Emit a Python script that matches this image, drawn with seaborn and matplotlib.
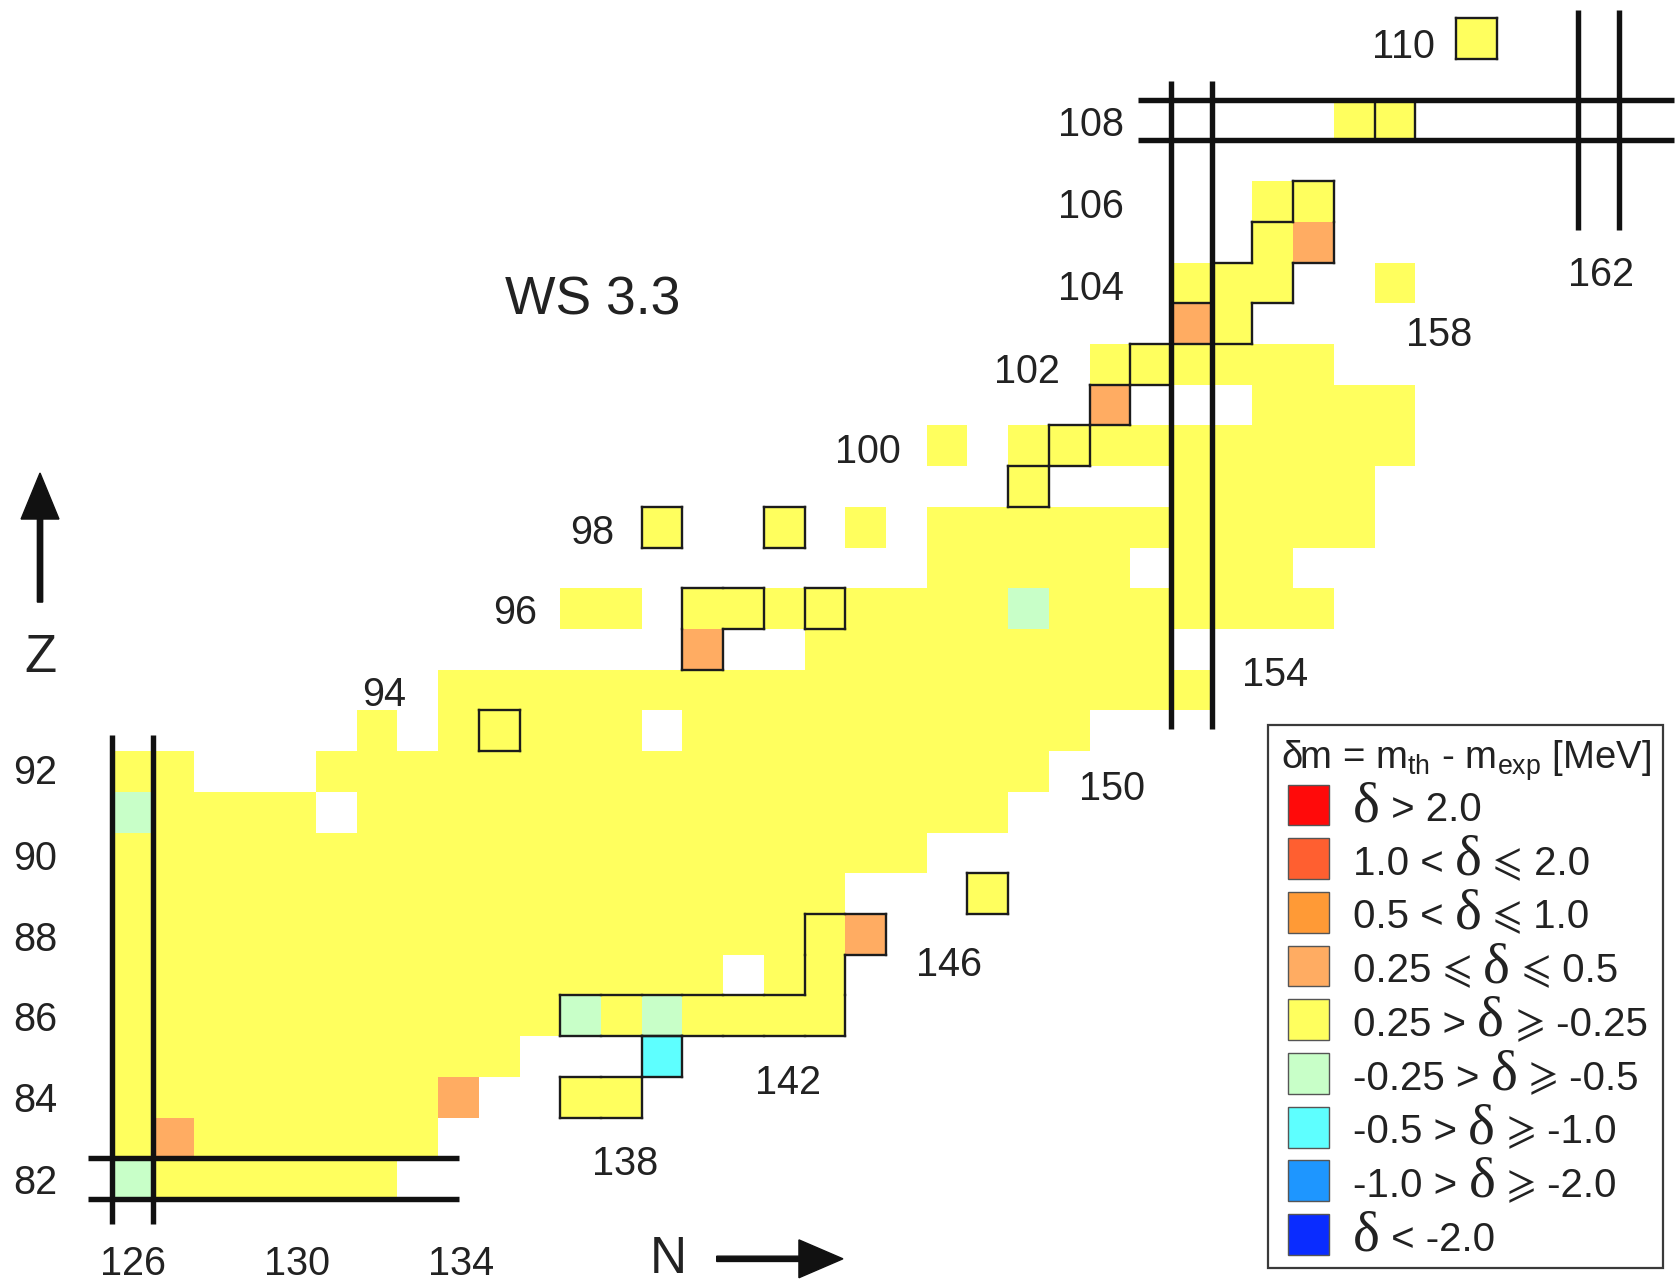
import numpy as np
import pandas as pd
import matplotlib
matplotlib.use("Agg")
import matplotlib.pyplot as plt
import seaborn as sns
from matplotlib.colors import ListedColormap
from matplotlib.patches import Rectangle
from matplotlib.collections import LineCollection
from matplotlib.offsetbox import TextArea, HPacker, AnnotationBbox

sns.set_theme(style="white")
plt.rcParams["font.family"] = ["Liberation Sans", "DejaVu Sans", "STIXGeneral"]
plt.rcParams["mathtext.fontset"] = "custom"
plt.rcParams["mathtext.rm"] = "Liberation Sans"
plt.rcParams["mathtext.it"] = "Liberation Sans:italic"
plt.rcParams["mathtext.bf"] = "Liberation Sans:bold"

# ---------------- data ----------------
# categories of delta m = m_th - m_exp (index = colour code)
cat_colors = ["#ff0a0a", "#ff5f30", "#ff9a36", "#ffac62", "#ffff5e",
              "#c8ffc8", "#5effff", "#1e96ff", "#0a2cff"]
cat_labels = ["\u03b4 > 2.0", "1.0 < \u03b4 \u2a7d 2.0", "0.5 < \u03b4 \u2a7d 1.0",
              "0.25 \u2a7d \u03b4 \u2a7d 0.5", "0.25 > \u03b4 \u2a7e -0.25",
              "-0.25 > \u03b4 \u2a7e -0.5", "-0.5 > \u03b4 \u2a7e -1.0",
              "-1.0 > \u03b4 \u2a7e -2.0", "\u03b4 < -2.0"]

# runs of measured nuclei (Z, first N, last N), default class |dm|<0.25
run_Z = [82, 83, 84, 84, 85, 85, 86, 87, 87, 88, 89, 89, 90, 91, 91,
         92, 92, 93, 93, 93, 94, 95, 95, 96, 96, 97, 97, 98, 98, 98,
         98, 99, 99, 100, 100, 101, 101, 102, 103, 104, 104, 105, 106, 108, 110]
run_first = [126, 126, 126, 137, 126, 139, 126, 126, 142, 126, 126, 147, 126, 126, 132,
             126, 131, 132, 134, 140, 134, 140, 143, 137, 140, 146, 152, 139, 142, 144,
             146, 148, 152, 146, 148, 150, 154, 150, 152, 152, 157, 154, 154, 156, 159]
run_last = [132, 133, 134, 138, 135, 139, 143, 140, 143, 144, 143, 147, 145, 130, 147,
            127, 148, 132, 138, 149, 152, 140, 151, 138, 155, 150, 154, 139, 142, 144,
            156, 148, 156, 146, 157, 150, 157, 155, 153, 154, 157, 155, 155, 157, 159]

# cells in other classes
orange_N = [127, 134, 144, 140, 150, 152, 155]
orange_Z = [83, 84, 88, 95, 101, 103, 105]
lgreen_N = [126, 126, 137, 139, 148]
lgreen_Z = [82, 91, 86, 86, 96]
cyan_N = [139]
cyan_Z = [85]

# outlined groups of nuclei (N, Z)
box_groups = [
    [(137, 84), (138, 84)],
    [(139, 85)],
    [(137, 86), (138, 86), (139, 86), (140, 86), (141, 86), (142, 86), (143, 86),
     (143, 87), (143, 88), (144, 88)],
    [(147, 89)],
    [(135, 93)],
    [(140, 96), (141, 96), (140, 95)],
    [(143, 96)],
    [(139, 98)],
    [(142, 98)],
    [(148, 99)],
    [(149, 100)],
    [(150, 101)],
    [(151, 102)],
    [(152, 103), (153, 103), (153, 104), (154, 104), (154, 105), (155, 105), (155, 106)],
    [(157, 108)],
    [(159, 110)],
]

# magic / shell-closure lines
magic_N = [126, 152, 162]
magic_N_from = [80.88, 93.05, 105.3]
magic_N_to = [92.89, 108.95, 110.7]
magic_Z = [82, 108]
magic_Z_from = [124.89, 150.7]
magic_Z_to = [134.02, 163.85]

# labels
z_text = ["82", "84", "86", "88", "90", "92", "94", "96", "98", "100", "102", "104", "106", "108", "110"]
z_pos_N = [123.61, 123.61, 123.61, 123.61, 123.61, 123.61, 132.16, 135.39, 137.29,
           144.05, 147.95, 149.53, 149.53, 149.53, 157.21]
z_pos_Z = [82.0, 84.0, 86.0, 87.97, 89.95, 92.05, 93.97, 96.0, 97.95,
           99.95, 101.92, 103.95, 105.95, 107.97, 109.89]
n_text = ["126", "130", "134", "138", "142", "146", "150", "154", "158", "162"]
n_pos_N = [126.0, 130.03, 134.05, 138.1, 142.08, 146.05, 150.05, 154.05, 158.08, 162.05]
n_pos_Z = [79.99, 79.99, 79.99, 82.45, 84.45, 87.34, 91.66, 94.47, 102.82, 104.29]

# ---------------- grid ----------------
N_cols = np.arange(126, 163)
Z_rows = np.arange(110, 81, -1)
grid = pd.DataFrame(np.nan, index=Z_rows, columns=N_cols)
for z, n0, n1 in zip(run_Z, run_first, run_last):
    grid.loc[z, n0:n1] = 4
for n, z in zip(orange_N, orange_Z):
    grid.loc[z, n] = 3
for n, z in zip(lgreen_N, lgreen_Z):
    grid.loc[z, n] = 5
for n, z in zip(cyan_N, cyan_Z):
    grid.loc[z, n] = 6


def hx(n):
    return n - 126 + 0.5


def hy(z):
    return 110 - z + 0.5


fig = plt.figure(figsize=(16.8, 12.83), dpi=100)
ax = fig.add_axes([0, 0, 1, 1])
sns.heatmap(grid, cmap=ListedColormap(cat_colors), vmin=-0.5, vmax=8.5,
            cbar=False, xticklabels=False, yticklabels=False, ax=ax, linewidths=0)
ax.set_xlim(hx(122.737), hx(164.0))
ax.set_ylim(hy(79.436), hy(110.948))
ax.axis("off")

# outlines of groups
segs = []
for grp in box_groups:
    s = set(grp)
    for n, z in grp:
        x0, x1 = n - 126, n - 125
        y0, y1 = 110 - z, 111 - z
        if (n, z + 1) not in s:
            segs.append([(x0, y0), (x1, y0)])
        if (n, z - 1) not in s:
            segs.append([(x0, y1), (x1, y1)])
        if (n - 1, z) not in s:
            segs.append([(x0, y0), (x0, y1)])
        if (n + 1, z) not in s:
            segs.append([(x1, y0), (x1, y1)])
ax.add_collection(LineCollection(segs, colors="#1c1c1c", linewidths=1.7,
                                 capstyle="projecting", zorder=3))

# magic lines
for n, a, b in zip(magic_N, magic_N_from, magic_N_to):
    for off in (-0.5, 0.5):
        ax.plot([hx(n + off), hx(n + off)], [hy(a), hy(b)], color="#111111",
                lw=3.9, solid_capstyle="butt", zorder=4)
for z, a, b in zip(magic_Z, magic_Z_from, magic_Z_to):
    for off in (-0.5, 0.5):
        ax.plot([hx(a), hx(b)], [hy(z + off), hy(z + off)], color="#111111",
                lw=3.9, solid_capstyle="butt", zorder=4)

# number labels
for t, n, z in zip(z_text, z_pos_N, z_pos_Z):
    ax.text(hx(n), hy(z), t, ha="center", va="center_baseline", fontsize=28.5, color="#222222")
for t, n, z in zip(n_text, n_pos_N, n_pos_Z):
    ax.text(hx(n), hy(z), t, ha="center", va="center_baseline", fontsize=28.5, color="#222222")

ax.text(hx(137.29), hy(103.71), "WS 3.3", ha="center", va="center_baseline",
        fontsize=38.5, color="#222222")

# axis arrows
ax.arrow(hx(123.72), hy(96.16), 0, -(99.33 - 96.16), width=0.13, head_width=0.93,
         head_length=1.13, length_includes_head=True, color="#111111", zorder=5)
ax.text(hx(123.72), hy(94.93), "Z", ha="center", va="center_baseline", fontsize=38, color="#222222")
ax.arrow(hx(140.34), hy(80.03), 143.44 - 140.34, 0, width=0.13, head_width=0.93,
         head_length=1.08, length_includes_head=True, color="#111111", zorder=5)
ax.text(hx(139.14), hy(80.14), "N", ha="center", va="center_baseline", fontsize=37, color="#222222")

# ---------------- legend ----------------
W, H = 1568.0, 1197.0
ax.add_patch(Rectangle((1183 / W, 1 - 1183 / H), (1552 - 1183) / W, (1183 - 676) / H,
                       transform=ax.transAxes, fill=False, ec="#3a3a3a", lw=1.6,
                       clip_on=False, zorder=6))
ax.text(1368 / W, 1 - 703 / H, r"δm = m$_{\rm th}$ - m$_{\rm exp}$ [MeV]",
        transform=ax.transAxes, ha="center", va="center_baseline", fontsize=27.5, color="#222222")

sans = dict(fontsize=29, color="#222222")
serif_d = dict(fontsize=41, color="#222222", family=["Liberation Serif", "DejaVu Serif"])
ops = dict(fontsize=31, color="#222222", family=["STIXGeneral", "DejaVu Sans"])


def kind(ch):
    if ch == "\u03b4":
        return "d"
    if ch in "\u2a7d\u2a7e":
        return "o"
    return "t"


for i, col in enumerate(cat_colors):
    yc = 751 + i * 50.1
    ax.add_patch(Rectangle((1202 / W, 1 - (yc + 19) / H), 38 / W, 38 / H,
                           transform=ax.transAxes, fc=col, ec="#555555", lw=1.0,
                           clip_on=False, zorder=6))
    label = cat_labels[i]
    chunks = []
    for ch in label:
        k = kind(ch)
        if chunks and chunks[-1][1] == k:
            chunks[-1][0] += ch
        else:
            chunks.append([ch, k])
    parts = []
    for txt, k in chunks:
        props = serif_d if k == "d" else (ops if k == "o" else sans)
        parts.append(TextArea(txt, textprops=props))
    hp = HPacker(children=parts, align="baseline", pad=0, sep=0)
    ab = AnnotationBbox(hp, (1263 / W, 1 - (yc + 2) / H), xycoords="axes fraction",
                        box_alignment=(0, 0.5), frameon=False, pad=0, zorder=7)
    ax.add_artist(ab)

fig.savefig("out.png", dpi=100, facecolor="white")
